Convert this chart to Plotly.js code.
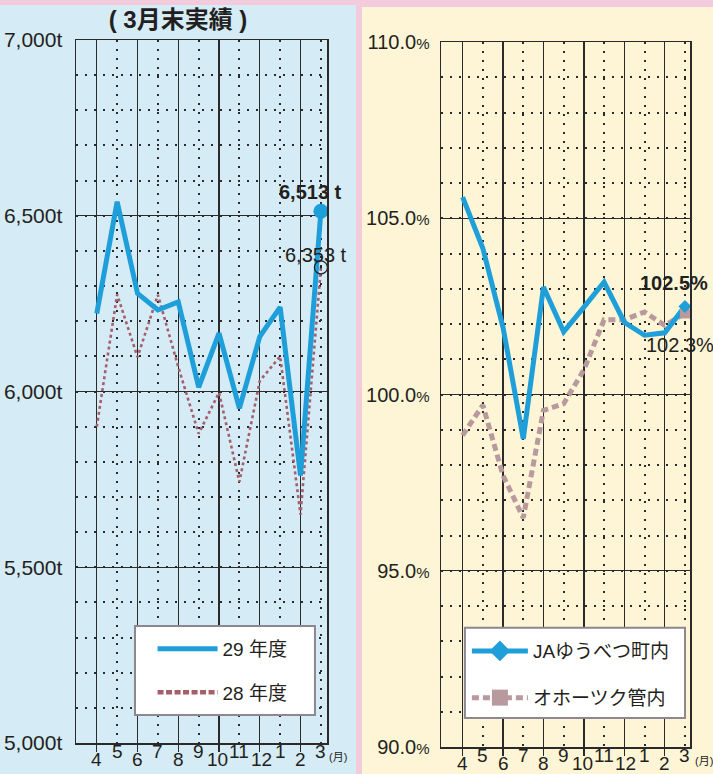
<!DOCTYPE html>
<html>
<head>
<meta charset="utf-8">
<script src="https://cdn.plot.ly/plotly-3.0.1.min.js"></script>
<style>
  html, body { margin:0; padding:0; background:#f4cbdc; width:713px; height:774px; overflow:hidden; }
  #left { position:absolute; left:0; top:5px; width:356px; height:769px; }
  #right { position:absolute; left:362px; top:7px; width:351px; height:767px; }
</style>
</head>
<body>
<div id="left"></div>
<div id="right"></div>
<script>
// ---------- data ----------
const months = ['4','5','6','7','8','9','10','11','12','1','2','3'];
const monthUnit = '(月)';

// left chart: shipments (t)
const seriesNamesLeft = ['29 年度', '28 年度'];
const fy29 = [6222, 6540, 6279, 6232, 6255, 6012, 6166, 5952, 6156, 6240, 5761, 6513];
const fy28 = [5900, 6276, 6098, 6275, 6070, 5880, 5997, 5743, 6030, 6100, 5650, 6353];
const leftTickVals = [5000, 5500, 6000, 6500, 7000];
const leftTickText = ['5,000t', '5,500t', '6,000t', '6,500t', '7,000t'];
const leftEndLabels = ['6,513 t', '6,353 t'];
const leftTitle = '( 3月末実績 )';

// right chart: ratio (%)
const seriesNamesRight = ['JAゆうべつ町内', 'オホーツク管内'];
const ja = [105.6, 104.15, 101.9, 98.74, 103.05, 101.78, 102.48, 103.19, 102.05, 101.68, 101.75, 102.5];
const okhotsk = [98.84, 99.7, 97.7, 96.5, 99.55, 99.74, 100.7, 102.12, 102.12, 102.34, 101.96, 102.3];
const rightTickVals = [90, 95, 100, 105, 110];
const rightTickText = ['90.0', '95.0', '100.0', '105.0', '110.0'];
const rightEndLabels = ['102.5%', '102.3%'];

// ---------- styling ----------
const FONT = 'Liberation Sans, Arial, Noto Sans CJK JP, sans-serif';
const INK = '#231f20';
const GRID = '#2a2a2a';
const BLUE = '#1e9fda';
const RED = '#a45f6b';
const GREYPINK = '#b89a9e';
const idx = months.map((m, i) => i);
const last = idx.length - 1;
const majorX = idx.filter(i => i % 2 === 0);
const minorX = idx.filter(i => i % 2 === 1);

function monthAnnotations(unitX) {
  const a = months.map((m, i) => ({
    x: i, xref: 'x', y: 0, yref: 'paper', yanchor: 'middle', xanchor: 'center',
    yshift: (i % 2 === 0) ? -16 : -8,
    xshift: m === '10' ? -1.5 : (m === '12' ? 1.5 : 0),
    text: m, showarrow: false,
    font: { family: FONT, size: 19, color: INK }
  }));
  a.push({ x: unitX, xref: 'paper', y: 0, yref: 'paper', yanchor: 'middle', xanchor: 'center',
    yshift: -14, text: monthUnit, showarrow: false,
    font: { family: FONT, size: 11, color: INK } });
  return a;
}

function xAxis(range) {
  return {
    range: range, tickmode: 'array', tickvals: majorX, showticklabels: false,
    ticks: 'outside', ticklen: 7, tickwidth: 1.3, tickcolor: GRID,
    showgrid: true, gridcolor: GRID, gridwidth: 1.3,
    showline: true, mirror: true, linecolor: GRID, linewidth: 1.5, zeroline: false,
    fixedrange: true,
    minor: { tickmode: 'array', tickvals: minorX, showgrid: true, gridcolor: GRID,
             gridwidth: 2, griddash: '2px,7px', ticks: '' }
  };
}

function yAxis(range, vals, text, minorStep, size, standoff) {
  return {
    range: range, tickmode: 'array', tickvals: vals, ticktext: text,
    ticks: '', ticklabelstandoff: standoff,
    tickfont: { family: FONT, size: size, color: INK },
    showgrid: true, gridcolor: GRID, gridwidth: 1.3,
    showline: true, mirror: true, linecolor: GRID, linewidth: 1.5, zeroline: false,
    fixedrange: true,
    minor: { tick0: range[0], dtick: minorStep, showgrid: true, gridcolor: GRID,
             gridwidth: 2, griddash: '2px,7px', ticks: '' }
  };
}

const config = { staticPlot: true, displayModeBar: false };

// ---------- left chart ----------
const leftTraces = [
  { x: idx, y: fy28, mode: 'lines', showlegend: false,
    line: { color: RED, width: 2.6, dash: 'dot' } },
  { x: idx, y: fy29, mode: 'lines', name: seriesNamesLeft[0], legendrank: 1, legendgroup: 'a',
    line: { color: BLUE, width: 5 } },
  { x: [idx[last]], y: [fy29[last]], mode: 'markers', showlegend: false,
    marker: { color: BLUE, size: 15 } },
  { x: [idx[last]], y: [fy28[last]], mode: 'markers', showlegend: false,
    marker: { symbol: 'circle-open-dot', color: INK, size: 13, line: { width: 1.2, color: INK } } },
  // legend key for FY28 (drawn heavier, as in the printed key)
  { x: [null], y: [null], mode: 'lines', name: seriesNamesLeft[1], legendrank: 2, legendgroup: 'b',
    line: { color: RED, width: 4.5, dash: '6px,2.5px' } }
];

const leftAnn = monthAnnotations(1.045);
leftAnn.push({ x: idx[last], y: fy29[last], xref: 'x', yref: 'y', xshift: -10, yshift: 19,
  text: '<b>' + leftEndLabels[0] + '</b>', showarrow: false, font: { family: FONT, size: 20, color: INK } });
leftAnn.push({ x: idx[last], y: fy28[last], xref: 'x', yref: 'y', xshift: -5, yshift: 12,
  text: leftEndLabels[1], showarrow: false, font: { family: FONT, size: 20, color: INK } });

const leftLayout = {
  width: 356, height: 769,
  margin: { l: 76, r: 29, t: 35, b: 31, pad: 0 },
  paper_bgcolor: '#d5ebf6', plot_bgcolor: '#d5ebf6',
  font: { family: FONT, color: INK },
  title: { text: '<b>' + leftTitle + '</b>', x: 0.5, xanchor: 'center', xref: 'container',
           y: 0.981, yanchor: 'middle', yref: 'container',
           font: { family: FONT, size: 24, color: INK } },
  xaxis: xAxis([-1.02, 11.3]),
  yaxis: yAxis([5000, 7000], leftTickVals, leftTickText, 100, 21, 8),
  showlegend: true,
  legend: { x: 0.305, xanchor: 'left', y: 0.161, yanchor: 'top', bgcolor: 'rgba(0,0,0,0)',
            borderwidth: 0, itemwidth: 60, tracegroupgap: 16, traceorder: 'grouped',
            font: { family: FONT, size: 19, color: INK } },
  shapes: [
    { type: 'rect', xref: 'paper', yref: 'paper', x0: 0.235, x1: 0.952, y0: 0.0398, y1: 0.1664,
      fillcolor: '#ffffff', line: { color: '#8c8790', width: 2 }, layer: 'above' }
  ],
  annotations: leftAnn
};

Plotly.newPlot('left', leftTraces, leftLayout, config);

// ---------- right chart ----------
const rightTraces = [
  // lines (legend entries drawn by the key-only traces below)
  { x: idx, y: okhotsk, mode: 'lines', showlegend: false,
    line: { color: GREYPINK, width: 5, dash: '7px,4px' } },
  { x: idx, y: ja, mode: 'lines', showlegend: false,
    line: { color: BLUE, width: 5 } },
  { x: [idx[last]], y: [okhotsk[last]], mode: 'markers', showlegend: false,
    marker: { symbol: 'square', size: 10, color: GREYPINK } },
  { x: [idx[last]], y: [ja[last]], mode: 'markers', showlegend: false,
    marker: { symbol: 'diamond', size: 10, color: BLUE } },
  // legend keys (no points)
  { x: [null], y: [null], mode: 'lines+markers', name: seriesNamesRight[1], legendrank: 2, legendgroup: 'b',
    line: { color: GREYPINK, width: 5, dash: '7px,4px' },
    marker: { symbol: 'square', size: 16, color: GREYPINK } },
  { x: [null], y: [null], mode: 'lines+markers', name: seriesNamesRight[0], legendrank: 1, legendgroup: 'a',
    line: { color: BLUE, width: 5 },
    marker: { symbol: 'diamond', size: 16, color: BLUE } }
];

const rightAnn = monthAnnotations(1.055);
rightAnn.push({ x: idx[last], y: ja[last], xref: 'x', yref: 'y', xshift: -11, yshift: 23,
  text: '<b>' + rightEndLabels[0] + '</b>', showarrow: false, font: { family: FONT, size: 20, color: INK } });
rightAnn.push({ x: idx[last], y: okhotsk[last], xref: 'x', yref: 'y', xshift: -5, yshift: -32,
  text: rightEndLabels[1], showarrow: false, font: { family: FONT, size: 20, color: INK } });

const rightLayout = {
  width: 351, height: 767,
  margin: { l: 79, r: 23, t: 35, b: 27, pad: 0 },
  paper_bgcolor: '#fdf5d6', plot_bgcolor: '#fdf5d6',
  font: { family: FONT, color: INK },
  xaxis: xAxis([-1.07, 11.25]),
  yaxis: yAxis([90, 110], rightTickVals,
               rightTickText.map(t => t + '<span style="font-size:15px">%</span>'), 1, 20, 6),
  showlegend: true,
  legend: { x: 0.104, xanchor: 'left', y: 0.163, yanchor: 'top', bgcolor: 'rgba(0,0,0,0)',
            borderwidth: 0, itemwidth: 56, tracegroupgap: 19,
            traceorder: 'grouped',
            font: { family: FONT, size: 19, color: INK } },
  shapes: [
    { type: 'rect', xref: 'paper', yref: 'paper', x0: 0.096, x1: 0.98, y0: 0.041, y1: 0.169,
      fillcolor: '#ffffff', line: { color: '#8c8790', width: 2 }, layer: 'above' }
  ],
  annotations: rightAnn
};

Plotly.newPlot('right', rightTraces, rightLayout, config);
</script>
</body>
</html>
